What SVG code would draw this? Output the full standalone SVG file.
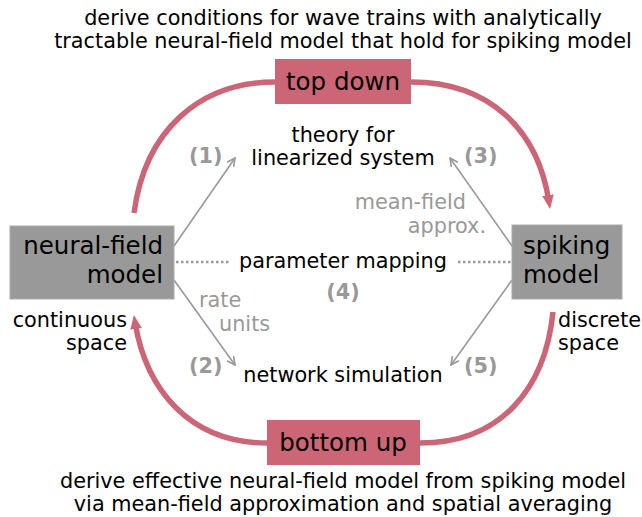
<svg xmlns="http://www.w3.org/2000/svg" width="642" height="517" viewBox="0 0 642 517">
<style>
text{font-family:"DejaVu Sans",sans-serif;font-size:20.8px;fill:#000}
.big{font-size:24.5px}
.g{fill:#999}
.b{font-weight:bold;fill:#999}
.c{text-anchor:middle}
.r{text-anchor:end}
.pink{fill:none;stroke:#cc6677;stroke-width:5.5}
.ga{fill:none;stroke:#999;stroke-width:1.6}
.dot{fill:none;stroke:#999;stroke-width:2.5;stroke-dasharray:2.5 2.5}
</style>
<defs>
<marker id="ah" viewBox="0 0 10 10" refX="9" refY="5" markerWidth="10" markerHeight="10" markerUnits="userSpaceOnUse" orient="auto">
<path d="M1,1 L9,5 L1,9" fill="none" stroke="#999" stroke-width="1.6"/>
</marker>
<marker id="ph" viewBox="0 0 12 12" refX="6" refY="6" markerWidth="14" markerHeight="14" markerUnits="userSpaceOnUse" orient="auto">
<path d="M0,1 L12,6 L0,11 Z" fill="#cc6677"/>
</marker>
</defs>
<text class="c" x="343" y="25">derive conditions for wave trains with analytically</text>
<text class="c" x="343" y="48">tractable neural-field model that hold for spiking model</text>
<g id="connectors">
<path class="pink" d="M134,213 C145,130 200,82 275,82"/>
<path class="pink" d="M411,82 C490,82 538,130 549,202" marker-end="url(#ph)"/>
<path class="pink" d="M267,443 C190,443 146,390 135,322" marker-end="url(#ph)"/>
<path class="pink" d="M553,312 C545,390 500,443 420,443"/>
<path class="ga" d="M174,246 L235,158" marker-end="url(#ah)"/>
<path class="ga" d="M512,246 L450,158" marker-end="url(#ah)"/>
<path class="ga" d="M174,280 L235,365" marker-end="url(#ah)"/>
<path class="ga" d="M512,280 L451,365" marker-end="url(#ah)"/>
<path class="dot" d="M176,262 L230,262"/>
<path class="dot" d="M458,262 L512,262"/>
</g>
<g id="topdown">
<rect x="275" y="59" width="136" height="45" fill="#cc6677"/>
<text class="big c" x="343" y="90">top down</text>
</g>
<g id="bottomup">
<rect x="267" y="420" width="153" height="45" fill="#cc6677"/>
<text class="big c" x="343" y="451">bottom up</text>
</g>
<g id="neuralfield">
<rect x="10" y="226" width="164" height="73" fill="#999" stroke="#aaa" stroke-width="1"/>
<text class="big r" x="163" y="254">neural-field</text>
<text class="big r" x="163" y="283">model</text>
</g>
<g id="spiking">
<rect x="512" y="225" width="110" height="74" fill="#999" stroke="#aaa" stroke-width="1"/>
<text class="big" x="523" y="254">spiking</text>
<text class="big" x="523" y="283">model</text>
</g>
<g id="theory">
<text class="c" x="343" y="142">theory for</text>
<text class="c" x="343" y="165">linearized system</text>
</g>
<g id="param">
<text class="c" x="343" y="268">parameter mapping</text>
</g>
<g id="netsim">
<text class="c" x="343" y="382">network simulation</text>
</g>
<text class="b" x="189" y="163">(1)</text>
<text class="b" x="464" y="163">(3)</text>
<text class="b c" x="343" y="299">(4)</text>
<text class="b" x="189" y="373">(2)</text>
<text class="b" x="464" y="373">(5)</text>
<text class="g r" x="466" y="209">mean-field</text>
<text class="g r" x="486" y="233">approx.</text>
<text class="g" x="199" y="307">rate</text>
<text class="g" x="219" y="331">units</text>
<text class="r" x="127" y="327">continuous</text>
<text class="r" x="127" y="350">space</text>
<text x="558" y="327">discrete</text>
<text x="558" y="350">space</text>
<text class="c" x="343" y="488">derive effective neural-field model from spiking model</text>
<text class="c" x="343" y="511">via mean-field approximation and spatial averaging</text>
</svg>
